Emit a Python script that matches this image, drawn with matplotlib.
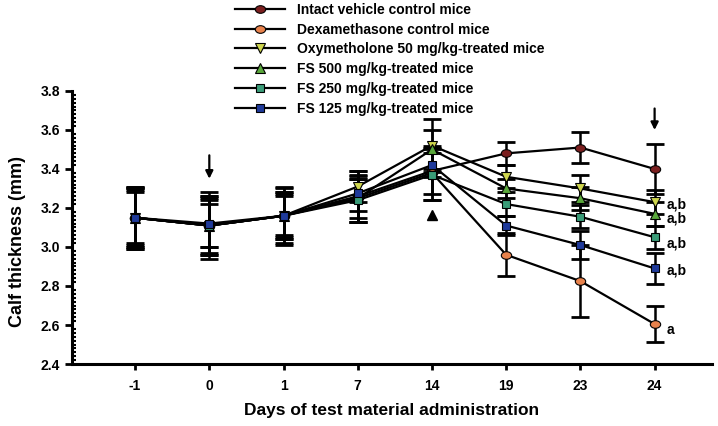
import numpy as np
import matplotlib
matplotlib.use('Agg')
from matplotlib import pyplot as plt
from matplotlib.ticker import MultipleLocator
from matplotlib.markers import MarkerStyle
from matplotlib.transforms import Affine2D

plt.rcParams['font.family'] = ['Liberation Sans', 'DejaVu Sans']
plt.rcParams['font.weight'] = 'bold'

#data======================================>
days = ['-1', '0', '1', '7', '14', '19', '23', '24']

labels = ['Intact vehicle control mice', 'Dexamethasone control mice',
          'Oxymetholone 50 mg/kg-treated mice', 'FS 500 mg/kg-treated mice',
          'FS 250 mg/kg-treated mice', 'FS 125 mg/kg-treated mice']

intact = [3.15, 3.11, 3.16, 3.26, 3.39, 3.48, 3.51, 3.40]
dex = [3.15, 3.11, 3.16, 3.25, 3.38, 2.96, 2.825, 2.605]
oxy = [3.15, 3.11, 3.16, 3.31, 3.52, 3.36, 3.30, 3.23]
fs500 = [3.15, 3.11, 3.16, 3.25, 3.50, 3.30, 3.25, 3.17]
fs250 = [3.15, 3.11, 3.16, 3.24, 3.37, 3.22, 3.155, 3.05]
fs125 = [3.15, 3.12, 3.16, 3.275, 3.42, 3.11, 3.01, 2.89]

intact_err = [0.15, 0.15, 0.15, 0.13, 0.12, 0.06, 0.08, 0.13]
dex_err = [0.16, 0.17, 0.14, 0.12, 0.14, 0.11, 0.185, 0.09]
oxy_err = [0.13, 0.11, 0.11, 0.08, 0.135, 0.06, 0.07, 0.06]
fs500_err = [0.14, 0.15, 0.12, 0.10, 0.10, 0.05, 0.06, 0.06]
fs250_err = [0.15, 0.14, 0.10, 0.11, 0.13, 0.06, 0.06, 0.06]
fs125_err = [0.16, 0.12, 0.12, 0.09, 0.06, 0.05, 0.07, 0.08]

# significance letters at the last day (text value, placed a bit below the point)
sig = ['', 'a', 'a,b', 'a,b', 'a,b', 'a,b']
sig_y = [0, 2.575, 3.22, 3.145, 3.02, 2.877]

# arrows (day, top, bottom) and triangle mark (day, value)
arrows = [('0', 3.47, 3.35), ('24', 3.71, 3.60)]
tri_mark = ('14', 3.165)

#style=====================================>
colors = ['#7b1f1f', '#e8824c', '#cfd64e', '#5aa83c', '#3a9c78', '#1f3a9a']
ellipse = MarkerStyle('o', transform=Affine2D().scale(1.35, 1.0))
markers = [ellipse, ellipse, 'v', '^', 's', 's']
msizes = [5.5, 5.5, 7.5, 7.5, 6, 6]

series = [intact, dex, oxy, fs500, fs250, fs125]
errs = [intact_err, dex_err, oxy_err, fs500_err, fs250_err, fs125_err]

fig = plt.figure(figsize=(7.18, 4.26), dpi=100)
ax = fig.add_axes([0.1003, 0.1455, 0.891, 0.641])

x = np.arange(len(days))
handles = []
for vals, err, c, m, ms, lab in zip(series, errs, colors, markers, msizes, labels):
    ax.errorbar(x, vals, yerr=err, fmt='none', ecolor='black', elinewidth=1.8,
                capsize=6.5, capthick=2, zorder=2)
    h, = ax.plot(x, vals, color='black', lw=1.6, marker=m, ms=ms,
                 markerfacecolor=c, markeredgecolor='black', markeredgewidth=0.8,
                 label=lab, zorder=3)
    handles.append(h)

# letters next to the last points
for s, ys in zip(sig, sig_y):
    if s:
        ax.text(x[-1] + 0.16, ys, s, fontsize=10, fontweight='bold',
                va='center', ha='left')

for d, y0, y1 in arrows:
    xi = days.index(d)
    ax.annotate('', xy=(xi, y1), xytext=(xi, y0),
                arrowprops=dict(arrowstyle='-|>', color='black', lw=1.6,
                                mutation_scale=11, shrinkA=0, shrinkB=0))
ax.plot(days.index(tri_mark[0]), tri_mark[1], marker='^', color='black',
        ms=7, linestyle='none')

ax.set_xlim(-0.85, 7.77)
ax.set_xticks(x)
ax.set_xticklabels(days, fontsize=10, fontweight='bold')
yt = np.arange(2.4, 3.81, 0.2)
ax.set_yticks(yt)
ax.set_yticklabels(['%.1f' % v for v in yt], fontsize=10, fontweight='bold')
ax.yaxis.set_minor_locator(MultipleLocator(0.02))
ax.set_ylim(2.4, 3.8)
ax.tick_params(axis='y', which='major', direction='out', length=5, width=2)
ax.tick_params(axis='y', which='minor', direction='in', length=3, width=1.5)
ax.tick_params(axis='x', which='major', direction='out', length=4, width=2, pad=7)
ax.spines['top'].set_visible(False)
ax.spines['right'].set_visible(False)
ax.spines['left'].set_linewidth(2.2)
ax.spines['bottom'].set_linewidth(2.2)

ax.set_xlabel('Days of test material administration', fontsize=12.5,
              fontweight='bold', labelpad=7)
ax.set_ylabel('Calf thickness (mm)', fontsize=13, fontweight='bold')
ax.yaxis.set_label_coords(-0.072, 0.45)

fig.legend(handles=handles, loc='upper left', bbox_to_anchor=(0.326, 0.997),
           frameon=False, fontsize=10, handlelength=3.6, labelspacing=0.42,
           handletextpad=0.8, borderpad=0.1, borderaxespad=0)

fig.savefig('out.png', dpi=100)
